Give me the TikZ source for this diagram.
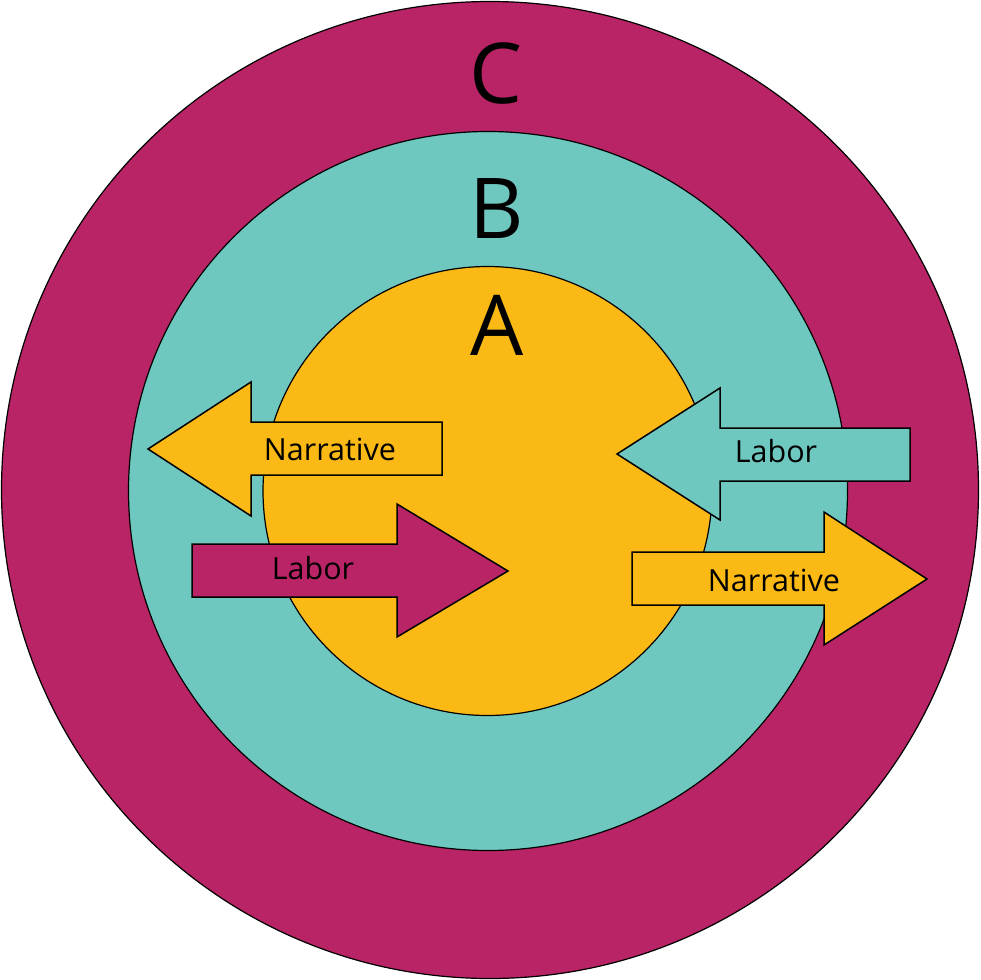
\documentclass[tikz,border=0pt]{standalone}
\usepackage{fontspec}
\setmainfont{Open Sans}
\definecolor{cmag}{RGB}{184,36,101}
\definecolor{cteal}{RGB}{110,200,192}
\definecolor{cyel}{RGB}{251,185,21}
\begin{document}
\begin{tikzpicture}[x=1pt,y=-1pt,
  ring/.style={draw=black,line width=1.2pt},
  arrowshape/.style={draw=black,line width=1.5pt,line join=miter},
  biglabel/.style={font=\fontsize{84}{84}\selectfont,inner sep=0pt},
  arrlabel/.style={font=\fontsize{30.5}{30.5}\selectfont,inner sep=0pt}]
\useasboundingbox (0,0) rectangle (980,980);
\fill[white] (0,0) rectangle (980,980);
\path[ring,fill=cmag] (490,490) circle[radius=488.5];
\path[ring,fill=cteal] (488,491) circle[radius=359.5];
\path[ring,fill=cyel] (487.5,491) circle[radius=224.5];
\node[biglabel] (c) at (496,73) {C};
\node[biglabel] (b) at (497,209) {B};
\node[biglabel] (a) at (497,325) {A};
% arrow 1: Narrative left
\path[arrowshape,fill=cyel] (148,449) -- (251,382) -- (251,422) -- (442,422) -- (442,475) -- (251,475) -- (251,516) -- cycle;
\node[arrlabel] (n1) at (330,449) {Narrative};
% arrow 2: Labor right
\path[arrowshape,fill=cmag] (192,544) -- (397,544) -- (397,504) -- (508,571) -- (397,637) -- (397,597) -- (192,597) -- cycle;
\node[arrlabel] (l1) at (313,568) {Labor};
% arrow 3: Labor left
\path[arrowshape,fill=cteal] (617,454) -- (720,388) -- (720,428) -- (910,428) -- (910,481) -- (720,481) -- (720,520) -- cycle;
\node[arrlabel] (l2) at (776,451) {Labor};
% arrow 4: Narrative right
\path[arrowshape,fill=cyel] (632,552) -- (824,552) -- (824,512) -- (927,579) -- (824,645) -- (824,605) -- (632,605) -- cycle;
\node[arrlabel] (n2) at (774,580) {Narrative};
\end{tikzpicture}
\end{document}
